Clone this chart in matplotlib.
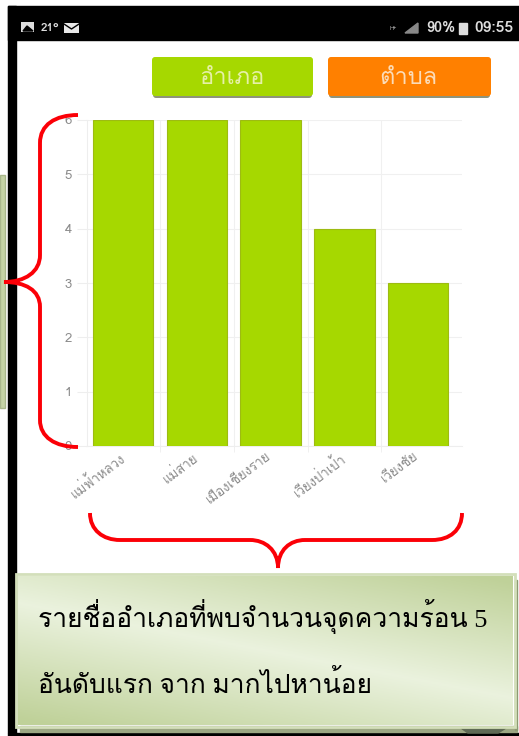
import numpy as np
import matplotlib
matplotlib.use("Agg")
import matplotlib.pyplot as plt
import matplotlib.font_manager as fm
from matplotlib.patches import Rectangle, FancyBboxPatch, PathPatch, Polygon
from matplotlib.path import Path
from matplotlib.transforms import ScaledTranslation

W, H = 519, 736

districts = ["แม่ฟ้าหลวง", "แม่สาย", "เมืองเชียงราย", "เวียงป่าเป้า", "เวียงชัย"]
hotspots = [6, 6, 6, 4, 3]
y_ticks = [0, 1, 2, 3, 4, 5, 6]
buttons = ["อำเภอ", "ตำบล"]
caption = ["รายชื่ออำเภอที่พบจำนวนจุดความร้อน 5", "อันดับแรก จาก มากไปหาน้อย"]

# look for any installed font that can draw thai
thai_fonts = []
for entry in fm.fontManager.ttflist:
    try:
        if 0x0E2D in fm.get_font(entry.fname).get_charmap() and entry.name not in thai_fonts:
            thai_fonts.append(entry.name)
    except Exception:
        pass
families = thai_fonts + ["DejaVu Sans"]
plt.rcParams["font.family"] = families

fig = plt.figure(figsize=(W / 100, H / 100), dpi=100, facecolor="white")

# overlay in pixel coordinates for the screenshot furniture
bg = fig.add_axes([0, 0, 1, 1], zorder=0)
bg.set_xlim(0, W)
bg.set_ylim(H, 0)
bg.axis("off")

bg.add_patch(Rectangle((8, 6), W - 8, 34, color="black"))
bg.add_patch(Rectangle((8, 6), 7.5, 727, color="black"))
bg.add_patch(Rectangle((8, 733), W - 8, 3, color="black"))
bg.add_patch(Rectangle((0, 175), 4.5, 233, facecolor="#c5d3a5", edgecolor="#a9b78c", lw=1))

# status bar
bg.add_patch(Rectangle((21, 22), 13, 10, facecolor="#dddddd", edgecolor="none"))
bg.add_patch(Polygon([[23, 31], [27, 26], [33, 31]], color="black"))
bg.text(41, 28, "21°", color="#dddddd", fontsize=8.5, va="center", fontweight="bold")
bg.add_patch(Rectangle((64, 23), 15, 10, facecolor="#e8e8e8", edgecolor="none"))
bg.plot([64, 71.5, 79], [24, 29, 24], color="black", lw=1)
bg.text(389, 28, "H+", color="#bbbbbb", fontsize=4, va="center")
bg.add_patch(Polygon([[405, 33], [418, 23], [418, 33]], color="#888888"))
bg.text(426, 28, "90%", color="#dddddd", fontsize=10.5, va="center", fontweight="bold")
bg.add_patch(Rectangle((459, 23), 8, 11, color="#dddddd"))
bg.text(474, 28, "09:55", color="#dddddd", fontsize=11.2, va="center", fontweight="bold")

# the two buttons
for x0, x1, col, tcol, label in [(152, 313, "#a6d800", "#e6f0a8", buttons[0]),
                                 (328, 491, "#ff8000", "#fbdcb8", buttons[1])]:
    bg.add_patch(FancyBboxPatch((x0 + 1, 59), x1 - x0 - 2, 39, boxstyle="round,pad=0,rounding_size=3",
                                facecolor="#7c8264", edgecolor="none", alpha=0.85))
    bg.add_patch(FancyBboxPatch((x0, 57), x1 - x0, 39, boxstyle="round,pad=0,rounding_size=3",
                                facecolor=col, edgecolor="none"))
    bg.text((x0 + x1) / 2 - 1, 78, label, color=tcol, fontsize=17, ha="center", va="center")

# bar chart, same box as the screenshot
ax = fig.add_axes([87 / W, 1 - 446 / H, 375 / W, 326 / H], zorder=1)
ax.patch.set_alpha(0)
x = np.arange(len(districts))
ax.bar(x, hotspots, width=0.82, color="#a6d800", edgecolor="#9dbb12", linewidth=0.8, zorder=3)
ax.set_xlim(-0.49, 4.593)
ax.set_ylim(0, 6)
ax.set_yticks(y_ticks)
ax.set_xticks(x)
ax.set_xticklabels(districts, rotation=37, ha="right", rotation_mode="anchor", color="#8c8c8c", fontsize=9.5)
ax.set_xticks(x[:-1] + 0.5, minor=True)
ax.tick_params(axis="x", which="major", length=0, pad=3)
ax.tick_params(axis="x", which="minor", length=4, color="#eeeeee")
ax.tick_params(axis="y", length=7, color="#eeeeee", labelcolor="#8c8c8c", labelsize=9.5, pad=4)
ax.grid(True, axis="y", color="#f0f0f0", lw=0.8, zorder=0)
ax.grid(True, axis="x", which="minor", color="#f0f0f0", lw=0.8, zorder=0)
for name, sp in ax.spines.items():
    sp.set_color("#eeeeee")
    sp.set_linewidth(0.8)
    sp.set_visible(name in ("left", "bottom"))
# labels sit a little left of the bar centre
shift = ScaledTranslation(-5 / 100, 0, fig.dpi_scale_trans)
for lab in ax.get_xticklabels():
    lab.set_transform(lab.get_transform() + shift)

# caption panel with diagonal gradient
top = fig.add_axes([0, 0, 1, 1], zorder=2)
top.set_xlim(0, W)
top.set_ylim(H, 0)
top.axis("off")
top.patch.set_alpha(0)

px0, px1, py0, py1 = 16, 515, 574, 727
gy, gx = np.mgrid[0:1:80j, 0:1:200j]
d = np.abs((gx - 0.5) * 0.45 - (gy - 0.5) * 0.7)
d = np.clip(d / 0.55, 0, 1)[..., None]
light = np.array([0.92, 0.95, 0.87])
dark = np.array([0.75, 0.82, 0.60])
top.imshow(light * (1 - d) + dark * d, extent=[px0 + 2, px1 - 2, py1 - 2, py0 + 2], aspect="auto", zorder=2)
top.set_xlim(0, W)
top.set_ylim(H, 0)
top.add_patch(Rectangle((20, 726), W - 22, 6, color="#9ca783", zorder=1))
top.add_patch(Polygon([[461, 728], [506, 728], [498, 733], [468, 733]], color="#5f6a55", zorder=2))
top.add_patch(Rectangle((px0, py0), px1 - px0, py1 - py0, facecolor="none", edgecolor="#d3dfba", lw=2, zorder=3))
top.add_patch(Rectangle((515, 580), 2, 150, color="#8d9a72", zorder=1))
top.text(38, 627, caption[0], color="black", fontsize=19, family=["Liberation Serif"] + families, zorder=4, va="baseline")
top.text(38, 693, caption[1], color="black", fontsize=19, family=["Liberation Serif"] + families, zorder=4, va="baseline")

# red braces
def brace(points, codes):
    top.add_patch(PathPatch(Path(points, codes), facecolor="none", edgecolor="#fb0007", lw=2.8,
                            capstyle="butt", zorder=5))

M, L, C = Path.MOVETO, Path.LINETO, Path.CURVE4
brace([(78, 115), (55, 115), (40, 125), (40, 143), (40, 255), (40, 272), (25, 282), (4, 282),
       (25, 282), (40, 290), (40, 307), (40, 420), (40, 437), (55, 447), (78, 447)],
      [M, C, C, C, L, C, C, C, C, C, C, L, C, C, C])
brace([(90, 513), (90, 530), (103, 540), (120, 540), (250, 540), (265, 540), (278, 550), (278, 568),
       (278, 550), (290, 540), (305, 540), (432, 540), (450, 540), (462, 530), (462, 513)],
      [M, C, C, C, L, C, C, C, C, C, C, L, C, C, C])

fig.savefig("out.png", dpi=100)
